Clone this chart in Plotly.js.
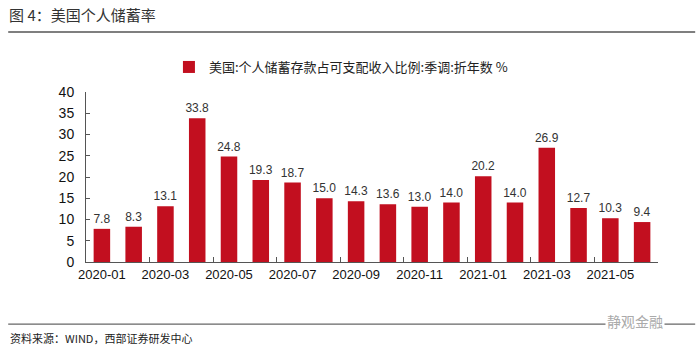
<!DOCTYPE html>
<html>
<head>
<meta charset="utf-8">
<script src="https://cdn.plot.ly/plotly-3.0.1.min.js"></script>
<style>html,body{margin:0;padding:0;background:#fff;}#chart{width:700px;height:354px;}</style>
</head>
<body>
<div id="chart"></div>
<script>
const months = ["2020-01","2020-02","2020-03","2020-04","2020-05","2020-06","2020-07","2020-08","2020-09","2020-10","2020-11","2020-12","2021-01","2021-02","2021-03","2021-04","2021-05","2021-06"];
const savingRate = [7.8, 8.3, 13.1, 33.8, 24.8, 19.3, 18.7, 15.0, 14.3, 13.6, 13.0, 14.0, 20.2, 14.0, 26.9, 12.7, 10.3, 9.4];
const seriesName = "美国:个人储蓄存款占可支配收入比例:季调:折年数 %";
const yTicks = [0, 5, 10, 15, 20, 25, 30, 35, 40];

const cjk = '"Noto Sans CJK SC", "Liberation Sans", sans-serif';
const latin = '"Liberation Sans", Arial, sans-serif';

const trace = {
  type: 'bar',
  x: months,
  y: savingRate,
  name: seriesName,
  marker: {color: '#C20F1F', line: {width: 0}},
  text: savingRate.map(v => v.toFixed(1)),
  textposition: 'outside',
  constraintext: 'none',
  textfont: {family: latin, size: 12, color: '#333'},
  cliponaxis: false,
  hoverinfo: 'x+y'
};

const layout = {
  width: 700, height: 354,
  margin: {l: 86, r: 42, t: 92, b: 92},
  paper_bgcolor: '#fff', plot_bgcolor: '#fff',
  bargap: 0.48,
  showlegend: true,
  legend: {
    orientation: 'h', x: 0.145, xanchor: 'left', y: 1.147, yanchor: 'middle',
    font: {family: cjk, size: 13, color: '#222'},
    itemwidth: 30, traceorder: 'normal', bgcolor: 'rgba(0,0,0,0)'
  },
  title: {
    text: '图 4：美国个人储蓄率',
    xref: 'container', yref: 'container', x: 0.013, xanchor: 'left', y: 0.955, yanchor: 'middle',
    font: {family: cjk, size: 15, color: '#333'}
  },
  xaxis: {
    type: 'category',
    tickmode: 'linear', dtick: 2, tick0: 0,
    tickson: 'boundaries',
    ticks: 'inside', ticklen: 5, tickcolor: '#555',
    showline: true, linecolor: '#555', linewidth: 1,
    showgrid: false, zeroline: false,
    tickfont: {family: latin, size: 13, color: '#111'},
    tickangle: 0
  },
  yaxis: {
    range: [0, 40],
    tickvals: yTicks,
    ticks: 'inside', ticklen: 4, tickcolor: '#555',
    showline: true, linecolor: '#555', linewidth: 1,
    showgrid: false, zeroline: false,
    tickfont: {family: latin, size: 14, color: '#111'},
    ticklabelstandoff: 8
  },
  shapes: [
    {type: 'line', xref: 'paper', yref: 'paper', x0: -0.136, x1: 1.065, y0: 1.353, y1: 1.353, line: {color: '#555', width: 1.5}},
    {type: 'line', xref: 'paper', yref: 'paper', x0: -0.136, x1: 1.065, y0: -0.365, y1: -0.365, line: {color: '#666', width: 1.2}}
  ],
  annotations: [
    {text: '资料来源：WIND，西部证券研发中心', xref: 'paper', yref: 'paper', x: -0.136, xanchor: 'left', y: -0.447, yanchor: 'middle', showarrow: false, font: {family: cjk, size: 11, color: '#222'}},
    {text: '静观金融', xref: 'paper', yref: 'paper', x: 1.012, xanchor: 'right', y: -0.345, yanchor: 'middle', showarrow: false, bgcolor: '#fff', font: {family: cjk, size: 14, color: '#aaa'}}
  ]
};

Plotly.newPlot('chart', [trace], layout, {displayModeBar: false, staticPlot: true});
</script>
</body>
</html>
